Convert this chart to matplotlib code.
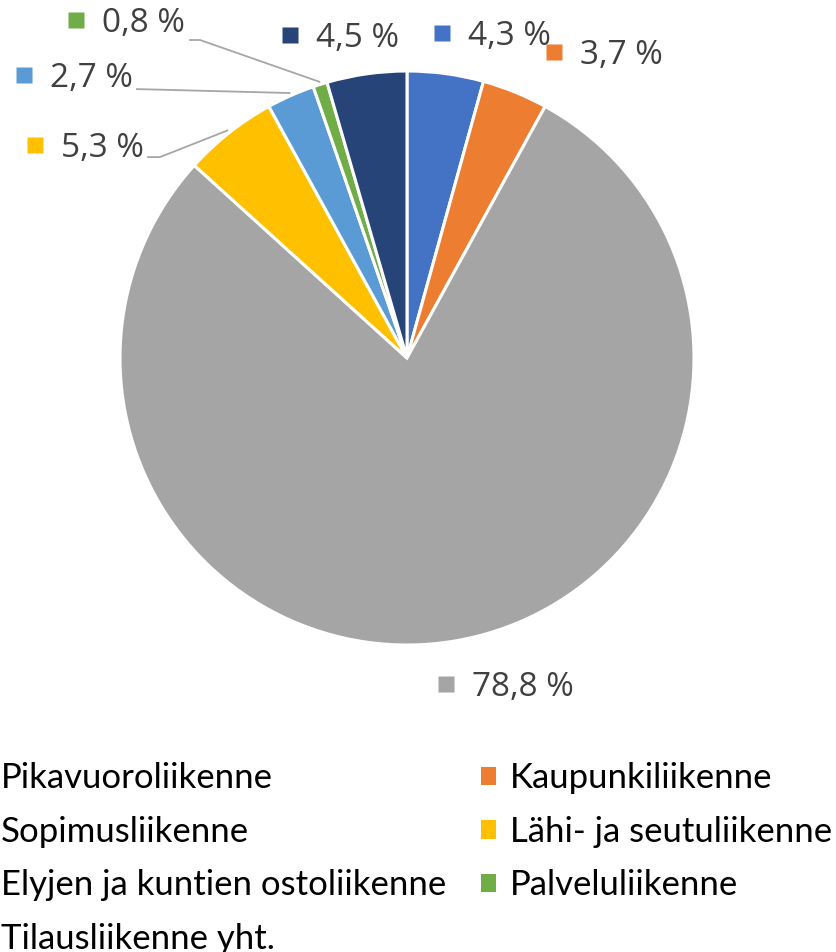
import matplotlib
matplotlib.use("Agg")
import matplotlib.pyplot as plt
import numpy as np

# data
categories = ["Pikavuoroliikenne", "Kaupunkiliikenne", "Sopimusliikenne",
              "Lähi- ja seutuliikenne", "Elyjen ja kuntien ostoliikenne",
              "Palveluliikenne", "Tilausliikenne yht."]
shares = [4.3, 3.7, 78.8, 5.3, 2.7, 0.8, 4.5]
colors = ["#4472C4", "#ED7D31", "#A5A5A5", "#FFC000", "#5B9BD5", "#70AD47", "#264478"]

# label layout (marker position in pie-radius units), and leader elbow (None = no line)
label_pos = [(0.122, 1.132), (0.512, 1.066), (0.136, -1.136), (-1.296, 0.742),
             (-1.334, 0.986), (-1.153, 1.178), (-0.408, 1.125)]
leader = [None, None, None, [(-0.902, 0.700), (-0.861, 0.700)],
          [(-0.941, 0.937)], [(-0.756, 1.108), (-0.721, 1.108)], None]

W, H, dpi = 837, 952, 100
cx, cy, R = 407, 358, 287

fig = plt.figure(figsize=(W / dpi, H / dpi), dpi=dpi)
ax = fig.add_axes([0, 0, 1, 1])

wedges, _ = ax.pie(shares, colors=colors, startangle=90, counterclock=False,
                   wedgeprops=dict(edgecolor="white", linewidth=2.2))

ax.set_xlim(-cx / R, (W - cx) / R)
ax.set_ylim((cy - H) / R, cy / R)
ax.set_aspect("equal")
ax.axis("off")

lab_font = dict(family=["Open Sans", "DejaVu Sans"], size=24, color="#404040")
for w, v, c, (lx, ly), ld in zip(wedges, shares, colors, label_pos, leader):
    ax.plot(lx, ly, marker="s", ms=11, color=c, mec="none", ls="none")
    ax.text(lx + 0.09, ly - 0.013, f"{v:.1f} %".replace(".", ","),
            va="center", ha="left", **lab_font)
    if ld is not None:
        ang = np.deg2rad((w.theta1 + w.theta2) / 2)
        pts = ld + [(np.cos(ang) * 1.01, np.sin(ang) * 1.01)]
        xs, ys = zip(*pts)
        ax.plot(xs, ys, color="#A6A6A6", lw=1.3)

order = [0, 2, 4, 6, 1, 3, 5]
leg = ax.legend([wedges[i] for i in order], [categories[i] for i in order],
                ncol=2, loc="upper left", frameon=False,
                prop=dict(family=["Lato", "DejaVu Sans"], size=25),
                handlelength=0.45, handleheight=0.45, handletextpad=0.4,
                labelspacing=0.62, columnspacing=1.0)
for t in leg.get_texts():
    t.set_color("black")
for p in leg.get_patches():
    p.set_edgecolor("none")
leg.set_bbox_to_anchor((-60 / W, 1 - 731 / H), transform=fig.transFigure)

fig.savefig("out.png", dpi=dpi)
